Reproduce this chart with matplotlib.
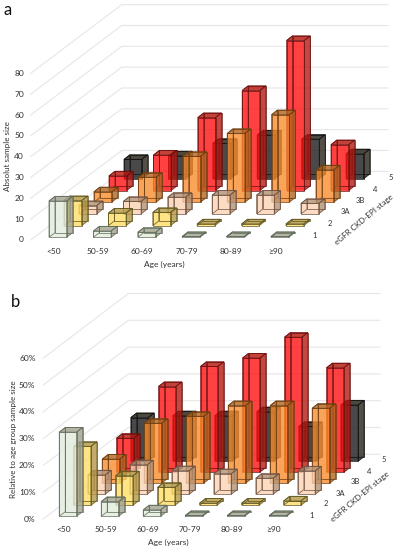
import matplotlib
matplotlib.use("Agg")
import matplotlib.pyplot as plt
from matplotlib.patches import Polygon

ages = ["<50", "50-59", "60-69", "70-79", "80-89", "≥90"]
stages = ["1", "2", "3A", "3B", "4", "5"]

# absolute sample size, one list per stage
a_stage1 = [17.4, 3, 2.4, 0.4, 0.4, 0.4]
a_stage2 = [12, 6, 6.3, 0.8, 0.8, 0.8]
a_stage3a = [4, 6, 8, 9, 9, 5]
a_stage3b = [5, 12, 22, 33, 42, 15.5]
a_stage4 = [7, 17, 35, 48, 72, 22]
a_stage5 = [9.3, 11, 17, 21, 19, 12]

# percent of the age group, one list per stage
b_stage1 = [31.4, 5.5, 2.4, 0.3, 0.3, 0.3]
b_stage2 = [22, 11, 6.7, 0.8, 0.8, 1.6]
b_stage3a = [7.2, 11, 8.8, 7.7, 6, 8.7]
b_stage3b = [9, 22.4, 25, 29, 29, 28]
b_stage4 = [12.7, 32, 39.5, 42.6, 50.4, 39]
b_stage5 = [16.3, 17, 17, 18.5, 13, 21]

a_ticks = [0, 10, 20, 30, 40, 50, 60, 70, 80]
b_ticks = [0, 10, 20, 30, 40, 50, 60]

face_colors = ["#e2ecdc", "#ffdd66", "#fcd3b4", "#f98c2e", "#ff0f0f", "#1a1a1a"]
edge_colors = ["#5f6b5a", "#5f5520", "#6e5040", "#6b3c10", "#6b1010", "#111111"]

plt.rcParams["font.family"] = ["Lato", "DejaVu Sans"]
fig = plt.figure(figsize=(3.96, 5.5), dpi=100)
ax = fig.add_axes([0, 0, 1, 1])
ax.set_xlim(0, 396)
ax.set_ylim(550, 0)
ax.axis("off")


def draw_bar(g, age_i, stage_i, value):
    x = g["x0"] + age_i * g["age_step"] + stage_i * g["stage_dx"]
    y = g["y0"] + stage_i * g["stage_dy"]
    top = y - value * g["unit"]
    w, dx, dy = g["w"], g["box_dx"], g["box_dy"]
    fc = face_colors[stage_i]
    ec = edge_colors[stage_i]
    front = [(x, y), (x + w, y), (x + w, top), (x, top)]
    back = [(px + dx, py + dy) for px, py in front]
    left = [(x, y), (x + dx, y + dy), (x + dx, top + dy), (x, top)]
    right = [(x + w, y), (x + w + dx, y + dy), (x + w + dx, top + dy), (x + w, top)]
    bottom = [(x, y), (x + w, y), (x + w + dx, y + dy), (x + dx, y + dy)]
    lid = [(x, top), (x + w, top), (x + w + dx, top + dy), (x + dx, top + dy)]
    faces = [(back, 0.25), (left, 0.25), (bottom, 0.3), (right, 0.6), (lid, 0.65), (front, 0.72)]
    for pts, alpha in faces:
        ax.add_patch(Polygon(pts, closed=True, fc=fc, ec="none", alpha=alpha))
    # darker shade on side and lid like excel does
    for pts in (right, lid):
        ax.add_patch(Polygon(pts, closed=True, fc="#3a2a10", ec="none", alpha=0.3))
    for pts in (back, left, right, lid, front):
        ax.add_patch(Polygon(pts, closed=True, fc="none", ec=ec, lw=0.6, alpha=0.85))


def draw_panel(g, series, ticks, tick_fmt):
    # wall gridlines
    for t in ticks:
        y_front = g["wall_y0"] - t * g["unit"]
        y_back = g["back_y0"] - t * g["unit"]
        xs = [g["wall_x0"], g["back_x0"], g["right_x"]]
        ys = [y_front, y_back, y_back]
        ax.plot(xs, ys, color="#e6e6e6", lw=0.8, zorder=0)
    for t in ticks:
        ax.text(g["tick_x"], g["wall_y0"] - t * g["unit"], tick_fmt % t, ha="right",
                va="center", fontsize=6, color="#303030")
    for stage_i in range(5, -1, -1):
        for age_i in range(6):
            draw_bar(g, age_i, stage_i, series[stage_i][age_i])
    for i, name in enumerate(ages):
        ax.text(g["age_lx"] + i * g["age_step"], g["age_ly"], name, ha="center", va="center",
                fontsize=6, color="#303030")
    for i, name in enumerate(stages):
        ax.text(g["stage_lx"] + i * g["stage_ldx"], g["stage_ly"] + i * g["stage_ldy"], name,
                ha="center", va="center", fontsize=5.5, color="#303030")
    ax.text(g["xlab"][0], g["xlab"][1], "Age (years)", ha="center", va="center", fontsize=6, color="#303030")
    ax.text(g["ylab"][0], g["ylab"][1], g["ylab_text"], ha="center", va="center", rotation=90,
            fontsize=5.8, color="#303030")
    ax.text(g["zlab"][0], g["zlab"][1], "eGFR CKD-EPI stage", ha="center", va="center", rotation=40,
            rotation_mode="anchor", fontsize=5.8, color="#303030")
    ax.text(g["letter"][0], g["letter"][1], g["name"], ha="left", va="center", fontsize=12, color="#111111")


panel_a = dict(name="a", letter=(4, 10), x0=49, y0=237.3, age_step=44.4, stage_dx=15, stage_dy=-11.7,
               w=17.7, box_dx=6, box_dy=-4.7, unit=2.083, wall_x0=30.7, wall_y0=240, back_x0=121.7,
               back_y0=171.3, right_x=388, tick_x=24, age_lx=53.5, age_ly=251,
               stage_lx=315, stage_ly=235, stage_ldx=15.1, stage_ldy=-11.5, xlab=(164, 264),
               ylab=(7.5, 156), ylab_text="Absolut sample size", zlab=(364, 220))
panel_b = dict(name="b", letter=(11, 302), x0=59.3, y0=516.3, age_step=42, stage_dx=14.3, stage_dy=-11,
               w=17.3, box_dx=6, box_dy=-4.7, unit=2.68, wall_x0=43.3, wall_y0=519, back_x0=128.3,
               back_y0=454.3, right_x=380, tick_x=35.5, age_lx=63.5, age_ly=529,
               stage_lx=312, stage_ly=515, stage_ldx=14.3, stage_ldy=-11, xlab=(168, 542),
               ylab=(14, 439), ylab_text="Relative to age group sample size", zlab=(360, 497))

draw_panel(panel_a, [a_stage1, a_stage2, a_stage3a, a_stage3b, a_stage4, a_stage5], a_ticks, "%d")
draw_panel(panel_b, [b_stage1, b_stage2, b_stage3a, b_stage3b, b_stage4, b_stage5], b_ticks, "%d%%")

fig.savefig("out.png", dpi=100)
